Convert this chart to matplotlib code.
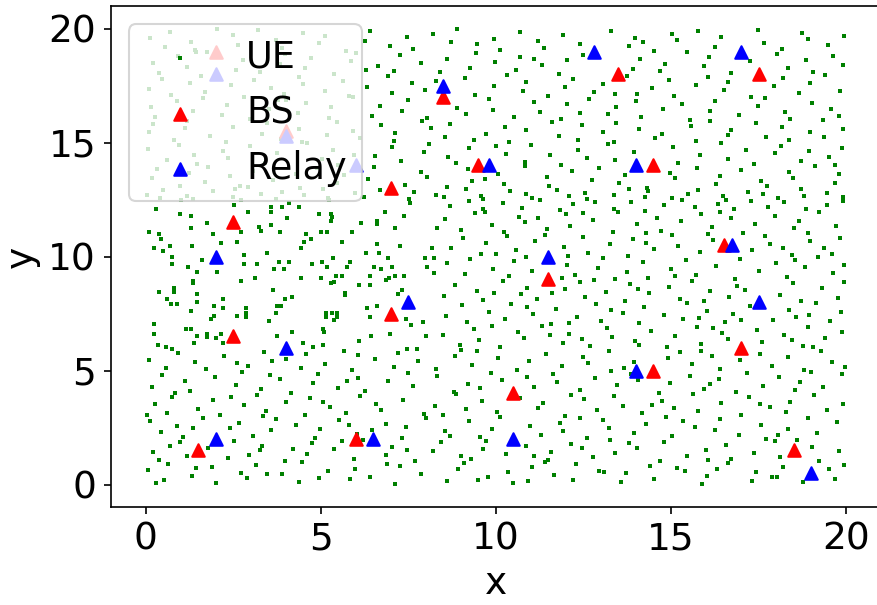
import matplotlib
matplotlib.use('Agg')
import matplotlib.pyplot as plt

# Base stations (red triangles)
bs_x = [1.5, 2.5, 2.5, 6.0, 7.0, 7.0, 8.5, 9.5, 10.5, 11.5, 13.5, 14.5, 14.5, 16.5, 17.0, 17.5, 18.5, 2.0, 4.0]
bs_y = [1.5, 6.5, 11.5, 2.0, 7.5, 13.0, 17.0, 14.0, 4.0, 9.0, 18.0, 14.0, 5.0, 10.5, 6.0, 18.0, 1.5, 19.0, 15.5]

# Relays (blue triangles)
relay_x = [2.0, 2.0, 4.0, 6.5, 7.5, 8.5, 9.8, 10.5, 11.5, 12.8, 14.0, 14.0, 16.75, 17.0, 17.5, 19.0, 2.0, 4.0, 6.0]
relay_y = [2.0, 10.0, 6.0, 2.0, 8.0, 17.5, 14.0, 2.0, 10.0, 19.0, 14.0, 5.0, 10.5, 19.0, 8.0, 0.5, 18.0, 15.3, 14.0]

# UE points read in the middle-left block (x 0..8.4, y 5.9..12.5), in zoomed-pixel units
ue_mid_zx = [45,120,280,300,390,390,425,445,475,565,322,117,150,440,535,570,575,570,660,710,710,735,790,810,200,150,355,360,390,418,540,558,633,765,890,25,55,60,88,40,68,155,218,240,288,300,495,510,490,480,605,710,778,875,95,95,185,143,170,230,310,310,350,378,415,445,400,430,515,545,558,578,628,620,675,715,742,700,722,755,855,880,860,882,157,157,300,343,480,542,570,580,585,605,612,612,655,688,688,738,745,765,790,55,100,100,80,90,108,170,170,248,398,455,433,150,220,248,315,315,315,288,410,420,405,385,555,555,575,590,590,580,680,710,688,772,785,798,812,848,40,40,135,150,170,200,200,225,240,248,210,220,410,455,488,517,548,550,548,655,690,750,858,52,75,95,160,800,830]
ue_mid_zy = [28,0,15,0,20,35,20,8,20,0,35,42,48,55,42,42,50,62,70,62,72,35,48,8,70,83,82,92,75,97,97,97,97,83,83,97,103,118,138,145,152,138,103,130,125,97,103,118,125,145,125,132,138,145,172,193,180,200,215,215,165,193,193,158,187,187,208,208,193,187,200,173,187,200,158,158,173,200,208,200,173,173,200,220,242,250,242,235,235,235,250,245,228,228,278,285,255,228,255,240,235,228,228,277,265,277,297,312,312,283,305,297,270,290,297,332,318,325,325,340,352,347,318,318,340,362,340,352,340,340,352,360,325,318,352,283,270,358,375,367,373,402,387,387,408,402,410,415,402,430,357,347,408,395,430,442,388,395,436,422,408,402,408,436,442,448,430,448,448]

# UE points, bottom part (y 0..5.9, full width)
ue_low = [
 (0.08,0.63),(0.52,0.18),(0.64,0.91),(1.31,0.37),(1.45,0.74),(2.02,0.06),(2.71,0.52),(2.88,0.29),(3.14,0.85),(3.90,0.44),(4.37,0.12),(4.46,0.97),(5.20,0.58),(5.83,0.23),(5.97,0.70),(6.40,0.35),(7.12,0.02),(7.25,0.81),(7.86,0.47),(8.61,0.14),(8.93,0.66),(9.08,0.93),(9.77,0.31),(10.35,0.55),(10.49,0.08),(11.03,0.77),(11.66,0.40),(12.21,0.21),(12.30,0.88),(12.95,0.60),(13.58,0.11),(13.71,0.49),(14.40,0.83),(14.52,0.26),(15.17,0.72),(15.88,0.04),(16.02,0.39),(16.64,0.95),(17.30,0.17),(17.44,0.57),(18.03,0.34),(18.19,0.79),(18.77,0.09),(19.52,0.68),(19.68,0.25),(3.47,0.46),(6.90,0.90),(10.92,0.15),(15.40,0.61),(17.88,0.33),(1.88,0.76),(9.50,0.20),(13.10,0.53),(4.95,0.30),(11.40,0.98),(16.30,0.66),(0.30,0.05),(19.95,0.87),
 (0.21,1.42),(0.37,1.07),(0.98,1.88),(1.17,1.26),(1.79,1.61),(2.36,1.15),(2.52,1.93),(3.25,1.50),(3.33,1.71),(3.98,1.04),(4.61,1.36),(4.74,1.82),(5.39,1.58),(5.95,1.12),(6.21,1.97),(6.85,1.29),(7.03,1.64),(7.68,1.01),(8.19,1.47),(8.44,1.86),(9.01,1.23),(9.63,1.55),(9.71,1.90),(10.28,1.33),(10.86,1.68),(11.49,1.09),(11.57,1.44),(12.14,1.77),(12.77,1.19),(13.26,1.96),(13.39,1.38),(14.02,1.62),(14.68,1.05),(14.81,1.85),(15.45,1.27),(15.99,1.53),(16.58,1.73),(16.71,1.14),(17.37,1.40),(17.96,1.92),(18.12,1.21),(19.04,1.66),(19.23,1.02),(19.81,1.49),(0.70,1.69),(2.95,1.30),(5.60,1.89),(7.45,1.52),(11.10,1.24),(13.80,1.81),(16.05,1.07),(18.60,1.95),(4.20,1.56),(9.30,1.11),(12.45,1.60),
 (0.12,2.77),(0.44,2.31),(0.89,2.58),(1.06,2.09),(1.63,2.94),(2.41,2.46),(2.67,2.72),(3.06,2.15),(3.59,2.39),(3.71,2.88),(4.28,2.61),(4.83,2.03),(4.99,2.45),(5.52,2.83),(6.03,2.22),(6.86,2.67),(7.31,2.04),(7.42,2.51),(7.99,2.90),(8.56,2.36),(8.70,2.12),(9.24,2.79),(9.88,2.43),(10.13,2.98),(10.97,2.57),(11.30,2.18),(11.84,2.70),(11.93,2.34),(12.61,2.05),(13.07,2.82),(13.22,2.49),(13.94,2.27),(14.29,2.66),(14.87,2.96),(15.02,2.11),(15.69,2.53),(16.27,2.38),(16.39,2.87),(16.93,2.16),(17.58,2.62),(17.71,2.01),(18.34,2.44),(18.92,2.91),(19.16,2.26),(19.74,2.74),(1.35,2.50),(5.80,2.60),(9.55,2.08),(12.40,2.92),(15.35,2.80),(18.05,2.19),(3.35,2.99),(6.45,2.41),
 (0.27,3.55),(0.61,3.12),(0.76,3.84),(1.49,3.33),(1.92,3.69),(2.13,3.07),(2.80,3.48),(3.19,3.93),(3.44,3.21),(4.02,3.62),(4.55,3.03),(4.68,3.79),(5.27,3.40),(5.71,3.15),(6.12,3.88),(6.58,3.52),(6.72,3.26),(7.36,3.71),(7.94,3.09),(8.25,3.44),(8.87,3.97),(9.15,3.30),(9.60,3.66),(10.02,3.18),(10.68,3.80),(11.21,3.37),(11.35,3.58),(11.97,3.02),(12.52,3.75),(12.89,3.28),(13.36,3.90),(13.64,3.46),(14.18,3.13),(14.73,3.68),(15.08,3.34),(15.63,3.99),(15.77,3.22),(16.44,3.57),(16.99,3.06),(17.24,3.82),(17.83,3.41),(18.28,3.17),(18.41,3.63),(19.07,3.94),(19.45,3.29),(19.90,3.54),(2.45,3.86),(5.05,3.62),(8.50,3.05),(12.15,3.92),(14.45,3.50),(17.55,3.55),(0.05,3.05),
 (0.18,4.29),(0.47,4.81),(1.12,4.56),(1.26,4.11),(1.97,4.70),(2.58,4.38),(2.76,4.94),(3.28,4.17),(3.83,4.63),(4.15,4.02),(4.79,4.47),(4.92,4.85),(5.48,4.24),(6.07,4.66),(6.25,4.09),(6.93,4.53),(7.50,4.91),(7.62,4.31),(8.32,4.75),(8.79,4.06),(9.20,4.42),(9.86,4.88),(10.18,4.60),(11.08,4.26),(11.62,4.83),(11.74,4.49),(12.39,4.13),(12.82,4.68),(13.29,4.97),(13.47,4.35),(14.07,4.58),(14.66,4.01),(14.96,4.44),(15.54,4.78),(15.93,4.19),(16.36,4.62),(16.85,4.05),(17.18,4.90),(17.63,4.32),(18.09,4.71),(18.54,4.15),(18.68,4.52),(19.33,4.27),(19.88,4.84),(0.85,4.02),(3.55,4.80),(5.75,4.55),(9.55,4.22),(13.85,4.86),(16.10,4.40),(19.00,4.95),(10.90,4.72),
 (0.09,5.48),(0.58,5.13),(0.93,5.77),(1.40,5.36),(1.71,5.06),(2.24,5.62),(2.93,5.21),(3.37,5.83),(3.62,5.44),(4.43,5.10),(4.59,5.71),(5.13,5.30),(5.66,5.88),(5.88,5.04),(6.54,5.52),(7.08,5.17),(7.21,5.79),(7.77,5.40),(8.28,5.08),(8.82,5.65),(9.33,5.25),(9.47,5.86),(10.07,5.57),(10.60,5.02),(10.95,5.42),(11.44,5.73),(11.89,5.19),(12.48,5.61),(12.62,5.33),(13.23,5.84),(13.67,5.12),(14.91,5.55),(15.26,5.83),(15.60,5.27),(16.18,5.64),(16.41,5.09),(16.97,5.45),(17.53,5.74),(17.89,5.20),(18.33,5.58),(18.80,5.03),(19.28,5.87),(19.61,5.39),(19.97,5.14),(2.60,5.35),(6.05,5.68),(9.00,5.90),(13.95,5.38),(15.85,5.85),(4.00,5.50),
]

# UE points, right middle part (x 8.4..20, y 5.9..12.5)
ue_right = [
 (8.49,6.57),(8.97,6.12),(9.38,6.83),(9.52,6.36),(10.11,6.05),(10.64,6.71),(10.79,6.44),(11.33,6.96),(11.92,6.23),(12.08,6.59),(12.70,6.10),(13.17,6.87),(13.31,6.47),(13.96,6.29),(14.42,6.75),(14.88,6.02),(15.12,6.53),(15.74,6.91),(15.86,6.18),(16.47,6.64),(16.63,6.38),(17.45,6.79),(17.61,6.26),(18.22,6.58),(18.77,6.07),(18.90,6.93),(19.41,6.41),(19.89,6.70),(9.90,6.95),(12.45,6.40),(14.10,6.12),(16.20,6.85),(18.45,6.35),(11.55,6.55),(19.05,6.05),
 (8.58,7.41),(9.04,7.86),(9.18,7.13),(9.81,7.59),(10.27,7.28),(10.43,7.94),(11.06,7.47),(11.58,7.03),(11.71,7.72),(12.33,7.35),(12.87,7.90),(12.99,7.19),(13.62,7.54),(14.08,7.08),(14.23,7.81),(14.81,7.42),(15.33,7.25),(15.47,7.96),(16.04,7.63),(16.53,7.11),(16.76,7.49),(17.27,7.84),(17.92,7.21),(18.36,7.68),(18.58,7.37),(19.13,7.98),(19.54,7.16),(19.86,7.57),(10.90,7.80),(13.30,7.65),(15.80,7.30),(18.95,7.45),(12.10,7.10),(17.00,7.20),
 (8.52,8.28),(8.84,8.77),(9.45,8.51),(9.63,8.09),(10.19,8.92),(10.72,8.34),(10.88,8.63),(11.18,8.15),(11.97,8.58),(12.41,8.87),(12.55,8.21),(13.13,8.45),(13.69,8.04),(13.82,8.80),(14.36,8.39),(14.94,8.66),(15.25,8.12),(15.59,8.95),(16.12,8.48),(16.67,8.24),(16.89,8.73),(18.11,8.32),(18.49,8.85),(18.70,8.06),(19.31,8.61),(19.77,8.19),(19.93,8.90),(12.80,8.98),(14.05,8.60),(17.10,8.55),(9.95,8.40),(15.95,8.05),(11.60,8.40),
 (8.61,9.71),(9.12,9.26),(9.27,9.88),(9.93,9.47),(10.36,9.13),(10.51,9.80),(11.04,9.39),(12.02,9.65),(12.26,9.18),(12.92,9.52),(13.07,9.94),(13.73,9.31),(14.20,9.77),(14.34,9.08),(14.99,9.44),(15.44,9.86),(15.71,9.21),(16.28,9.59),(16.84,9.03),(16.98,9.90),(17.52,9.36),(17.99,9.73),(18.30,9.12),(18.83,9.55),(19.20,9.97),(19.63,9.29),(19.95,9.64),(10.85,9.98),(13.40,9.00),(15.10,9.15),(18.55,9.85),(11.90,9.05),
 (8.73,10.38),(9.06,10.84),(9.57,10.13),(9.72,10.61),(10.32,10.92),(10.58,10.27),(11.13,10.70),(11.94,10.44),(12.48,10.88),(12.63,10.16),(13.25,10.57),(13.78,10.05),(13.91,10.79),(14.52,10.33),(15.03,10.96),(15.19,10.48),(15.82,10.21),(16.21,10.74),(17.31,10.29),(17.68,10.91),(17.84,10.55),(18.46,10.08),(18.98,10.67),(19.37,10.37),(19.84,10.82),(10.00,10.12),(12.05,10.02),(14.30,10.60),(16.05,10.98),(18.20,10.40),(19.60,10.10),(11.40,10.95),
 (8.55,11.63),(8.99,11.18),(9.41,11.92),(9.88,11.40),(10.24,11.07),(10.67,11.75),(10.83,11.51),(11.46,11.22),(11.99,11.86),(12.12,11.34),(12.76,11.61),(13.34,11.09),(13.48,11.97),(14.03,11.45),(14.59,11.71),(14.71,11.14),(15.28,11.55),(15.85,11.89),(16.16,11.28),(16.72,11.68),(17.06,11.02),(17.39,11.43),(17.97,11.80),(18.52,11.24),(18.66,11.58),(19.24,11.94),(19.71,11.36),(9.70,11.98),(12.50,11.90),(14.30,11.05),(16.40,11.95),(18.90,11.02),(11.20,11.70),
 (8.68,12.21),(9.22,12.43),(9.64,12.08),(10.21,12.35),(10.74,12.14),(11.27,12.47),(11.83,12.04),(12.19,12.29),(12.84,12.41),(13.38,12.11),(13.86,12.38),(14.27,12.02),(14.79,12.25),(15.31,12.48),(15.69,12.16),(16.33,12.33),(16.81,12.07),(17.29,12.45),(17.76,12.19),(18.23,12.39),(18.85,12.09),(19.46,12.28),(19.92,12.44),
]

# UE points, top part (y 12.5..20, full width), one band per row of the plot
ue_t12_x = [0.05,0.41,0.49,1.17,1.36,1.93,2.48,2.55,3.29,3.71,3.88,4.52,5.06,5.21,5.97,6.24,6.68,7.52,7.66,8.30,8.51,9.14,9.58,9.63,10.39,10.87,11.02,11.75,12.08,12.54,12.61,13.37,13.81,14.26,14.34,15.02,15.49,15.77,16.48,16.56,17.19,17.63,18.05,18.72,18.81,19.45,19.91]
ue_t12_y = [12.71,12.58,12.93,12.66,12.52,12.87,12.61,12.99,12.74,12.55,12.82,12.69,12.95,12.57,12.78,12.63,12.91,12.53,12.84,12.72,12.60,12.97,12.67,12.51,12.88,12.76,12.59,12.94,12.64,12.81,12.54,12.70,12.98,12.62,12.86,12.56,12.75,12.92,12.65,12.50,12.83,12.73,12.57,12.96,12.68,12.79,12.61]
ue_t13_x = [0.18,0.33,0.97,1.24,1.70,1.79,2.42,2.91,3.05,3.63,4.29,4.40,4.88,5.47,5.66,6.35,6.52,7.41,7.87,8.02,8.61,9.20,9.31,10.05,10.22,10.84,11.46,11.53,12.17,12.74,12.95,13.52,13.69,14.31,14.97,15.10,15.73,16.28,16.40,16.99,17.58,17.75,18.36,18.49,19.12,19.68,19.80,2.70,9.70]
ue_t13_y = [13.44,13.86,13.12,13.67,13.29,13.95,13.53,13.07,13.78,13.36,13.61,13.03,13.89,13.22,13.57,13.41,13.93,13.15,13.72,13.48,13.05,13.83,13.31,13.64,13.19,13.97,13.50,13.10,13.75,13.38,13.88,13.25,13.59,13.01,13.69,13.45,13.91,13.17,13.55,13.80,13.33,13.08,13.73,13.46,13.99,13.21,13.62,13.11,13.40]
ue_t14_x = [0.08,0.62,0.95,1.39,1.47,2.21,2.36,2.99,3.42,3.74,4.62,5.03,5.35,5.49,6.56,7.02,7.29,7.94,8.08,8.63,8.85,9.23,10.28,10.84,11.01,11.55,11.86,12.34,12.60,13.19,13.41,13.95,15.07,15.21,15.83,16.42,16.64,17.15,17.37,17.98,18.13,18.70,18.94,19.51,19.69,19.87,5.95,10.00]
ue_t14_y = [14.72,14.25,14.91,14.48,14.06,14.63,14.34,14.87,14.13,14.56,14.97,14.29,14.68,14.02,14.41,14.83,14.19,14.59,14.95,14.37,14.09,14.76,14.52,14.16,14.89,14.44,14.03,14.66,14.31,14.93,14.22,14.61,14.80,14.12,14.47,14.99,14.27,14.70,14.05,14.54,14.86,14.18,14.64,14.39,14.01,14.78,14.45,14.85]
ue_t15_x = [0.10,0.22,0.80,1.11,1.18,1.84,2.28,2.50,3.31,3.46,3.85,4.38,4.47,5.18,5.46,5.93,6.11,6.73,7.08,7.13,7.90,8.15,8.56,8.69,9.38,9.71,10.27,10.38,10.86,11.60,11.80,12.35,12.47,13.05,13.36,13.43,14.09,14.53,14.75,15.56,15.71,16.10,16.63,16.72,17.43,17.71,18.18,18.36,18.98,19.33,19.38,19.90]
ue_t15_y = [15.47,15.83,15.12,15.66,15.94,15.28,15.05,15.71,15.39,15.88,15.16,15.59,15.02,15.34,15.92,15.50,15.21,15.76,15.09,15.44,15.97,15.63,15.25,15.81,15.11,15.37,15.69,15.04,15.56,15.90,15.30,15.14,15.78,15.48,15.01,15.85,15.62,15.19,15.40,15.73,15.07,15.95,15.33,15.54,15.86,15.23,15.67,15.10,15.45,15.99,15.27,15.58]
ue_t16_x = [0.14,0.27,0.88,1.35,1.63,2.19,2.31,2.97,3.52,3.77,4.34,4.58,5.22,5.30,5.91,6.47,6.69,7.33,7.48,8.04,8.88,9.15,9.79,9.92,10.51,11.08,11.27,11.85,12.02,12.66,13.20,13.44,14.01,14.13,14.77,15.32,15.55,16.12,16.26,16.94,17.47,17.69,18.25,18.39,19.02,19.58,19.79,4.00,12.40]
ue_t16_y = [16.58,16.12,16.83,16.37,16.95,16.21,16.66,16.04,16.49,16.88,16.30,16.73,16.09,16.55,16.99,16.18,16.62,16.41,16.86,16.07,16.53,16.27,16.91,16.44,16.14,16.77,16.35,16.02,16.69,16.94,16.24,16.57,16.81,16.11,16.46,16.72,16.01,16.39,16.85,16.20,16.61,16.97,16.33,16.05,16.75,16.48,16.16,16.89,16.29]
ue_t17_x = [0.09,0.46,0.71,1.26,1.58,1.68,2.44,2.82,3.09,3.57,3.96,4.37,4.49,5.11,5.64,5.80,6.31,6.93,7.04,7.60,7.98,9.12,9.40,9.96,10.31,10.78,10.87,11.49,11.97,12.20,12.81,13.06,13.74,14.02,14.46,14.93,15.08,15.71,16.05,16.52,16.64,17.29,17.93,18.19,18.66,18.98,19.41,19.83,8.30,13.40]
ue_t17_y = [17.35,17.81,17.09,17.62,17.94,17.24,17.53,17.02,17.77,17.41,17.15,17.88,17.57,17.29,17.70,17.06,17.46,17.91,17.19,17.64,17.33,17.85,17.11,17.50,17.97,17.27,17.68,17.03,17.43,17.79,17.21,17.59,17.92,17.14,17.38,17.74,17.05,17.55,17.87,17.31,17.66,17.01,17.48,17.83,17.18,17.60,17.96,17.25,17.70,17.12]
ue_t18_x = [0.22,0.39,0.93,1.17,1.74,2.58,2.77,3.26,3.84,3.99,4.55,4.73,5.38,5.86,6.01,6.62,7.08,7.27,7.85,8.41,8.59,9.26,9.44,9.98,10.57,10.70,11.33,11.81,12.03,12.49,13.91,14.12,14.68,14.84,15.47,15.93,16.08,16.71,17.25,18.02,18.33,18.85,19.06,19.63,19.92,1.45,6.30,11.10]
ue_t18_y = [18.52,18.07,18.79,18.33,18.96,18.21,18.64,18.11,18.45,18.88,18.26,18.71,18.03,18.58,18.92,18.36,18.15,18.83,18.49,18.09,18.67,18.30,18.94,18.55,18.18,18.77,18.40,18.01,18.61,18.86,18.24,18.69,18.13,18.47,18.98,18.35,18.74,18.05,18.57,18.90,18.28,18.63,18.12,18.81,18.42,18.97,18.20,18.66]
ue_t19_x = [0.12,0.54,0.68,1.29,1.41,2.49,2.63,3.21,3.72,3.90,4.48,4.94,5.13,5.71,6.26,6.40,6.97,7.45,7.62,8.19,8.73,8.88,9.47,9.95,10.12,10.68,11.20,11.36,11.93,12.41,13.28,13.80,13.96,14.52,15.03,15.17,15.76,16.25,16.43,17.48,17.65,18.18,18.74,18.90,19.49,19.93,2.05,14.20]
ue_t19_y = [19.61,19.18,19.87,19.40,19.05,19.73,19.29,19.95,19.52,19.14,19.81,19.36,19.68,19.02,19.47,19.90,19.23,19.64,19.11,19.78,19.42,19.97,19.31,19.57,19.08,19.85,19.45,19.16,19.71,19.34,19.92,19.26,19.59,19.03,19.76,19.49,19.89,19.20,19.66,19.94,19.38,19.12,19.83,19.55,19.27,19.70,19.99,19.44]

ue_x = [(zx - 15) / 105.15 for zx in ue_mid_zx]
ue_y = [(853.5 - zy) / 68.37 for zy in ue_mid_zy]
for part in (ue_low, ue_right):
    ue_x += [p[0] for p in part]
    ue_y += [p[1] for p in part]
for bx, by in ((ue_t12_x, ue_t12_y), (ue_t13_x, ue_t13_y), (ue_t14_x, ue_t14_y),
               (ue_t15_x, ue_t15_y), (ue_t16_x, ue_t16_y), (ue_t17_x, ue_t17_y),
               (ue_t18_x, ue_t18_y), (ue_t19_x, ue_t19_y)):
    n = min(len(bx), len(by))
    ue_x += bx[:n]
    ue_y += by[:n]

fs = 18
fig = plt.figure(figsize=(877 / 150, 605 / 150), dpi=150)
ax = fig.add_axes([0.1262, 0.1615, 0.8785, 0.8286])
ax.scatter(ue_x, ue_y, s=3.2, c='g', marker='s', linewidths=0, label='UE')
ax.scatter(bs_x, bs_y, marker='^', c='r', label='BS')
ax.scatter(relay_x, relay_y, marker='^', c='b', label='Relay')
ax.set_xlim(-1, 21)
ax.set_ylim(-1, 21)
ax.set_xticks([0, 5, 10, 15, 20])
ax.set_yticks([0, 5, 10, 15, 20])
ax.tick_params(labelsize=fs)
ax.set_xlabel('x', fontsize=fs)
ax.set_ylabel('y', fontsize=fs)
ax.legend(loc='upper left', fontsize=17.6)
fig.savefig('out.png', dpi=150)
